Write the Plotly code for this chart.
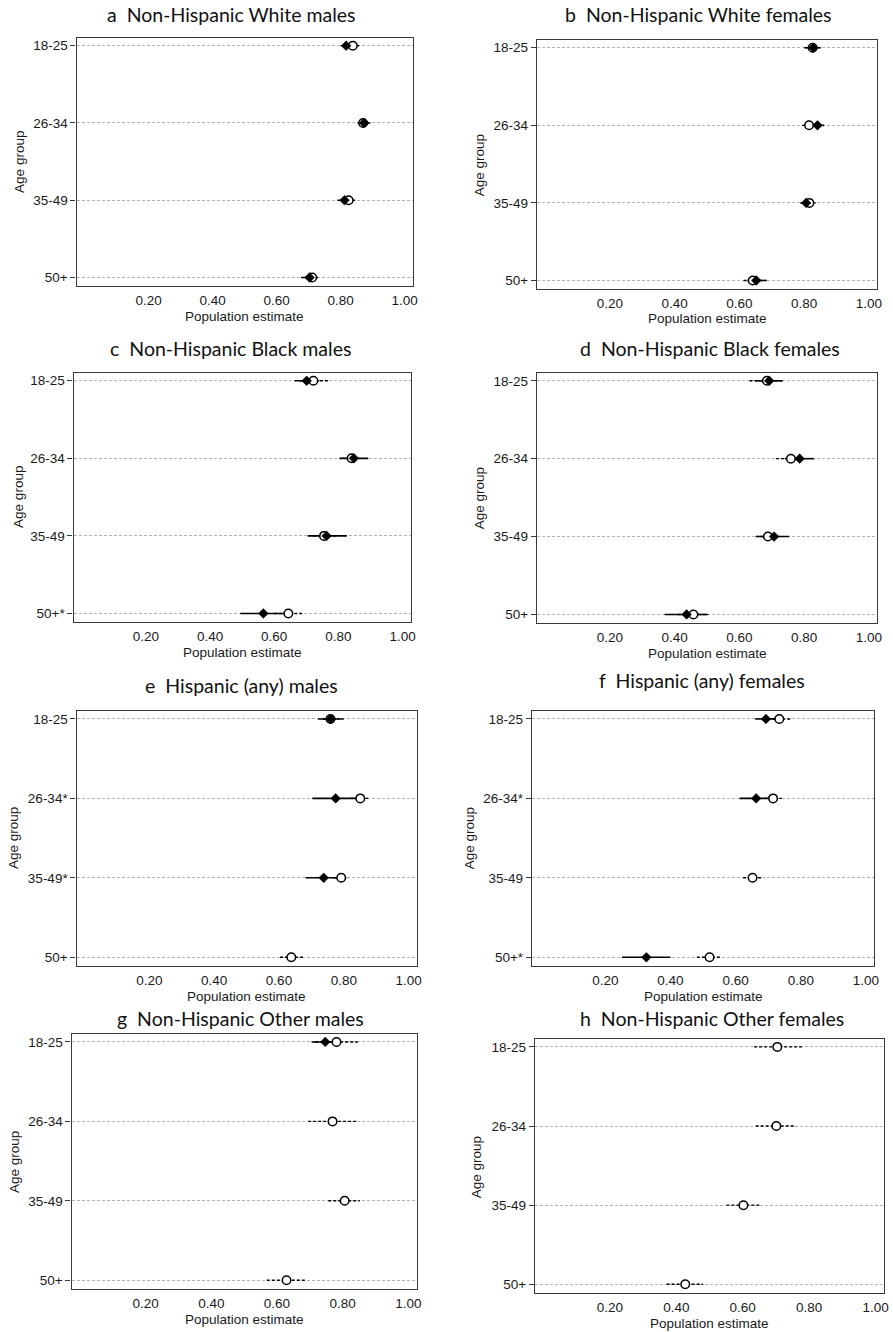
import plotly.graph_objects as go

# ---------------- data ----------------
x_tick_values = [0.2, 0.4, 0.6, 0.8, 1.0]
x_tick_labels = ["0.20", "0.40", "0.60", "0.80", "1.00"]
x_axis_title = "Population estimate"
y_axis_title = "Age group"

panel_titles = [
    "a  Non-Hispanic White males", "b  Non-Hispanic White females",
    "c  Non-Hispanic Black males", "d  Non-Hispanic Black females",
    "e  Hispanic (any) males", "f  Hispanic (any) females",
    "g  Non-Hispanic Other males", "h  Non-Hispanic Other females",
]

# age-group labels per panel (top to bottom)
labels_a = ["18-25", "26-34", "35-49", "50+"]
labels_b = ["18-25", "26-34", "35-49", "50+"]
labels_c = ["18-25", "26-34", "35-49", "50+*"]
labels_d = ["18-25", "26-34", "35-49", "50+"]
labels_e = ["18-25", "26-34*", "35-49*", "50+"]
labels_f = ["18-25", "26-34*", "35-49", "50+*"]
labels_g = ["18-25", "26-34", "35-49", "50+"]
labels_h = ["18-25", "26-34", "35-49", "50+"]

# filled diamond estimates (solid CI) and open circle estimates (dashed CI)
a_dia = [0.817, 0.873, 0.812, 0.703]
a_dia_lo = [0.800, 0.853, 0.790, 0.676]
a_dia_hi = [0.834, 0.893, 0.834, 0.728]
a_cir = [0.838, 0.870, 0.825, 0.711]
a_cir_lo = [0.820, 0.855, 0.805, 0.693]
a_cir_hi = [0.858, 0.888, 0.847, 0.729]

b_dia = [0.828, 0.841, 0.806, 0.652]
b_dia_lo = [0.805, 0.820, 0.788, 0.625]
b_dia_hi = [0.851, 0.862, 0.826, 0.685]
b_cir = [0.826, 0.815, 0.816, 0.641]
b_cir_lo = [0.800, 0.793, 0.800, 0.613]
b_cir_hi = [0.848, 0.836, 0.836, 0.668]

c_dia = [0.701, 0.848, 0.763, 0.566]
c_dia_lo = [0.663, 0.803, 0.704, 0.494]
c_dia_hi = [0.740, 0.893, 0.826, 0.640]
c_cir = [0.722, 0.841, 0.755, 0.644]
c_cir_lo = [0.680, 0.810, 0.720, 0.600]
c_cir_hi = [0.769, 0.872, 0.792, 0.688]

d_dia = [0.692, 0.786, 0.707, 0.437]
d_dia_lo = [0.650, 0.740, 0.655, 0.369]
d_dia_hi = [0.733, 0.831, 0.754, 0.504]
d_cir = [0.685, 0.759, 0.688, 0.458]
d_cir_lo = [0.631, 0.713, 0.650, 0.410]
d_cir_hi = [0.736, 0.805, 0.725, 0.500]

e_dia = [0.759, 0.775, 0.738, None]
e_dia_lo = [0.720, 0.703, 0.682, None]
e_dia_hi = [0.800, 0.848, 0.795, None]
e_cir = [0.759, 0.851, 0.792, 0.638]
e_cir_lo = [0.735, 0.820, 0.768, 0.603]
e_cir_hi = [0.785, 0.882, 0.815, 0.674]

f_dia = [0.693, 0.663, None, 0.326]
f_dia_lo = [0.660, 0.612, None, 0.251]
f_dia_hi = [0.727, 0.715, None, 0.400]
f_cir = [0.734, 0.715, 0.652, 0.520]
f_cir_lo = [0.697, 0.688, 0.623, 0.481]
f_cir_hi = [0.771, 0.742, 0.683, 0.558]

g_dia = [0.747, None, None, None]
g_dia_lo = [0.705, None, None, None]
g_dia_hi = [0.790, None, None, None]
g_cir = [0.781, 0.769, 0.806, 0.629]
g_cir_lo = [0.716, 0.695, 0.756, 0.569]
g_cir_hi = [0.846, 0.846, 0.852, 0.690]

h_dia = [None, None, None, None]
h_dia_lo = [None, None, None, None]
h_dia_hi = [None, None, None, None]
h_cir = [0.704, 0.701, 0.602, 0.427]
h_cir_lo = [0.634, 0.639, 0.551, 0.371]
h_cir_hi = [0.780, 0.760, 0.656, 0.481]

panels = [
    (labels_a, a_dia, a_dia_lo, a_dia_hi, a_cir, a_cir_lo, a_cir_hi),
    (labels_b, b_dia, b_dia_lo, b_dia_hi, b_cir, b_cir_lo, b_cir_hi),
    (labels_c, c_dia, c_dia_lo, c_dia_hi, c_cir, c_cir_lo, c_cir_hi),
    (labels_d, d_dia, d_dia_lo, d_dia_hi, d_cir, d_cir_lo, d_cir_hi),
    (labels_e, e_dia, e_dia_lo, e_dia_hi, e_cir, e_cir_lo, e_cir_hi),
    (labels_f, f_dia, f_dia_lo, f_dia_hi, f_cir, f_cir_lo, f_cir_hi),
    (labels_g, g_dia, g_dia_lo, g_dia_hi, g_cir, g_cir_lo, g_cir_hi),
    (labels_h, h_dia, h_dia_lo, h_dia_hi, h_cir, h_cir_lo, h_cir_hi),
]

# ---------------- layout (pixels) ----------------
W, H = 893, 1332
# plot boxes: x0, x1, y0(top), y1(bottom)
boxes = [
    (77, 415, 38, 286), (540, 882, 40, 289),
    (74, 413, 373, 622), (540, 882, 373, 623),
    (77, 419, 711, 966), (535, 879, 711, 966),
    (72, 419, 1034, 1289), (538, 889, 1039, 1293),
]
title_pos = [(233, 15), (702, 15), (232, 348), (714, 348),
             (243, 685), (706, 680), (242, 1018), (716, 1018)]
ytitle_pos = [(20, 162), (483, 165), (18, 497), (483, 498),
              (13, 838), (472, 838), (14, 1162), (479, 1167)]

def px(x):
    return x / W

def py(y):
    return 1 - y / H

FRAME = "#3a3a3a"
TICKFONT = dict(family="Liberation Sans, Arial, sans-serif", size=13.5, color="#1a1a1a")
TITLEFONT = dict(family="Lato, Carlito, sans-serif", size=19.5, color="#111111")

fig = go.Figure()
annotations = []

def segs(labels, lo, hi):
    xs, ys = [], []
    for lab, l, h in zip(labels, lo, hi):
        if l is None or h is None:
            continue
        xs += [l, h, None]
        ys += [lab, lab, None]
    return xs, ys

for i, (labels, dia, dlo, dhi, cir, clo, chi) in enumerate(panels):
    n = i + 1
    xa = "x" if n == 1 else f"x{n}"
    ya = "y" if n == 1 else f"y{n}"
    # dashed CI for circles
    xs, ys = segs(labels, clo, chi)
    fig.add_trace(go.Scatter(x=xs, y=ys, mode="lines", xaxis=xa, yaxis=ya,
                             line=dict(color="black", width=1.4, dash="3px,2px"),
                             showlegend=False, hoverinfo="skip"))
    # solid CI for diamonds
    xs, ys = segs(labels, dlo, dhi)
    if xs:
        fig.add_trace(go.Scatter(x=xs, y=ys, mode="lines", xaxis=xa, yaxis=ya,
                                 line=dict(color="black", width=1.6),
                                 showlegend=False, hoverinfo="skip"))
    # open circles
    cx = [v for v in cir if v is not None]
    cy = [lab for lab, v in zip(labels, cir) if v is not None]
    fig.add_trace(go.Scatter(x=cx, y=cy, mode="markers", xaxis=xa, yaxis=ya,
                             marker=dict(symbol="circle", size=8.5, color="white",
                                         line=dict(color="black", width=1.5)),
                             showlegend=False))
    # filled diamonds
    dx = [v for v in dia if v is not None]
    dy = [lab for lab, v in zip(labels, dia) if v is not None]
    if dx:
        fig.add_trace(go.Scatter(x=dx, y=dy, mode="markers", xaxis=xa, yaxis=ya,
                                 marker=dict(symbol="diamond", size=7.5, color="black",
                                             line=dict(color="black", width=0.5)),
                                 showlegend=False))

    x0, x1, y0, y1 = boxes[i]
    xkey = "xaxis" if n == 1 else f"xaxis{n}"
    ykey = "yaxis" if n == 1 else f"yaxis{n}"
    fig.layout[xkey] = dict(
        domain=[px(x0), px(x1)], anchor=ya, range=[-0.025, 1.025],
        tickvals=x_tick_values, ticktext=x_tick_labels,
        ticks="outside", ticklen=2, tickcolor="rgba(0,0,0,0)",
        showgrid=False, zeroline=False,
        showline=True, mirror=True, linecolor=FRAME, linewidth=1.4,
        tickfont=TICKFONT, fixedrange=True,
    )
    fig.layout[ykey] = dict(
        domain=[py(y1), py(y0)], anchor=xa, type="category",
        categoryorder="array", categoryarray=labels[::-1],
        range=[-0.11, 3.1],
        ticks="outside", ticklen=5, tickcolor=FRAME, tickwidth=1.2,
        showgrid=True, gridcolor="#b5b5b5", gridwidth=0.8, griddash="3px,2px",
        zeroline=False,
        showline=True, mirror=True, linecolor=FRAME, linewidth=1.4,
        tickfont=TICKFONT, fixedrange=True,
    )
    # panel title
    tx, ty = title_pos[i]
    annotations.append(dict(text=panel_titles[i], x=px(tx), y=py(ty),
                            xref="paper", yref="paper", showarrow=False,
                            xanchor="center", yanchor="middle", font=TITLEFONT))
    # x axis title
    annotations.append(dict(text=x_axis_title, x=px((x0 + x1) / 2), y=py(y1 + 30),
                            xref="paper", yref="paper", showarrow=False,
                            xanchor="center", yanchor="middle",
                            font=dict(family=TICKFONT["family"], size=13.5, color="#1a1a1a")))
    # y axis title
    yx, yy = ytitle_pos[i]
    annotations.append(dict(text=y_axis_title, x=px(yx), y=py(yy),
                            xref="paper", yref="paper", showarrow=False,
                            xanchor="center", yanchor="middle", textangle=-90,
                            font=dict(family=TICKFONT["family"], size=13.5, color="#1a1a1a")))

fig.update_layout(
    width=W, height=H, margin=dict(l=0, r=0, t=0, b=0),
    paper_bgcolor="white", plot_bgcolor="white",
    annotations=annotations, showlegend=False,
)

fig.write_html(
    "out.html",
    config={"displayModeBar": False},
    post_script="document.body.style.margin='0';document.body.style.padding='0';"
                "document.documentElement.style.overflow='hidden';",
)
